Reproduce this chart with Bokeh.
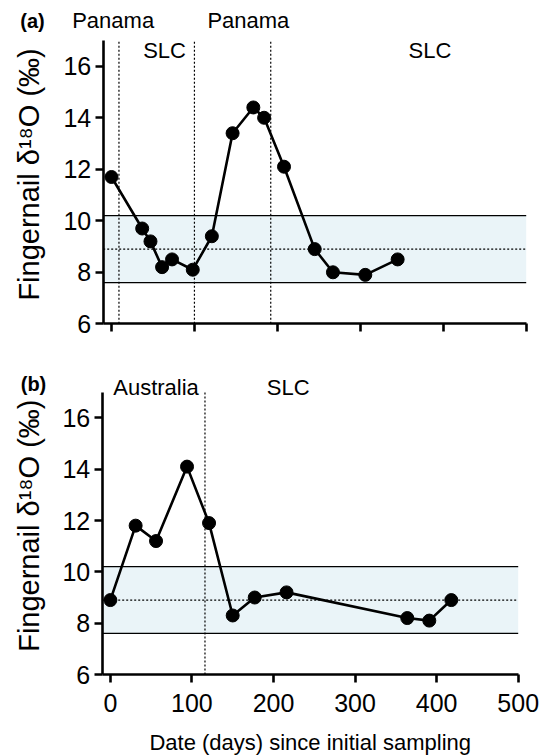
import math
from bokeh.plotting import figure
from bokeh.models import Label, Range1d, FixedTicker, BoxAnnotation
from bokeh.layouts import column
from bokeh.embed import file_html
from bokeh.resources import INLINE

# ---------------- data ----------------
# Panel (a)
a_days = [0, 37, 47, 61, 73, 98, 121, 146, 171, 184, 208, 245, 267, 306, 345]
a_d18o = [11.7, 9.7, 9.2, 8.2, 8.5, 8.1, 9.4, 13.4, 14.4, 14.0, 12.1, 8.9, 8.0, 7.9, 8.5]
a_boundaries = [9, 100, 192]
a_regions = ["Panama", "SLC", "Panama", "SLC"]
a_region_days = [2, 64, 165, 384]

# Panel (b)
b_days = [0, 31, 56, 94, 121, 150, 177, 216, 364, 391, 418]
b_d18o = [8.9, 11.8, 11.2, 14.1, 11.9, 8.3, 9.0, 9.2, 8.2, 8.1, 8.9]
b_boundaries = [116]
b_regions = ["Australia", "SLC"]
b_region_days = [56, 218]

# Reference range (SLC residents)
band_low, band_mid, band_high = 7.6, 8.9, 10.2

x_ticks = [0, 100, 200, 300, 400, 500]
y_ticks = [6, 8, 10, 12, 14, 16]
y_title = "Fingernail δ¹⁸O (‰)"
x_title = "Date (days) since initial sampling"

FONT = "Liberation Sans"
X0, X1 = -10, 500
Y0, YTOP = 6, 17
W = 539


def make_panel(days, vals, bounds, regions, region_days, region_rows, height,
               px_xaxis_left, px_x500, px_y17, px_y6, show_xlabels, tag, tag_px, title_px,
               xtitle_py=None):
    # frame covers the whole canvas; axes are placed at fixed data locations
    kx = (px_x500 - px_xaxis_left) / (X1 - X0)
    ky = (px_y6 - px_y17) / (YTOP - Y0)
    x_lo = X0 - px_xaxis_left / kx
    x_hi = X1 + (W - px_x500) / kx
    y_hi = YTOP + px_y17 / ky
    y_lo = Y0 - (height - px_y6) / ky

    def ydata(py):
        return Y0 + (px_y6 - py) / ky

    p = figure(width=W, height=height, output_backend="svg", toolbar_location=None,
               x_range=Range1d(x_lo, x_hi), y_range=Range1d(y_lo, y_hi),
               min_border_left=0, min_border_right=0,
               min_border_top=0, min_border_bottom=0)
    p.outline_line_color = None
    p.xgrid.visible = False
    p.ygrid.visible = False
    p.background_fill_color = "white"
    p.border_fill_color = "white"

    # reference band
    p.add_layout(BoxAnnotation(left=X0, right=X1, bottom=band_low, top=band_high,
                               fill_color="#eaf4f8", fill_alpha=1.0, line_color=None,
                               level="underlay"))
    p.segment(x0=[X0, X0], y0=[band_low, band_high], x1=[X1, X1], y1=[band_low, band_high],
              line_color="black", line_width=1.3)
    p.segment(x0=[X0], y0=[band_mid], x1=[X1], y1=[band_mid],
              line_color="black", line_width=1.2, line_dash="2 2")

    # location boundaries
    p.segment(x0=bounds, y0=[Y0] * len(bounds), x1=bounds, y1=[YTOP] * len(bounds),
              line_color="black", line_width=1.2, line_dash="2 2")

    # data
    p.line(days, vals, line_color="black", line_width=2.6)
    p.scatter(days, vals, size=13, fill_color="black", line_color="black")

    # axes
    for ax in (p.xaxis[0], p.yaxis[0]):
        ax.axis_line_width = 2.6
        ax.major_tick_line_width = 2.6
        ax.major_tick_out = 8
        ax.major_tick_in = 0
        ax.minor_tick_line_color = None
        ax.major_label_text_font = FONT
        ax.major_label_text_font_size = "25px"
        ax.major_label_text_color = "black"
        ax.axis_line_color = "black"
        ax.major_tick_line_color = "black"
    p.yaxis.ticker = FixedTicker(ticks=y_ticks)
    p.xaxis.ticker = FixedTicker(ticks=x_ticks)
    p.yaxis.bounds = (Y0, YTOP)
    p.xaxis.bounds = (X0, X1)
    p.yaxis.fixed_location = X0
    p.xaxis.fixed_location = Y0
    p.yaxis.major_label_standoff = 4
    if show_xlabels:
        p.xaxis.major_label_standoff = 11
    else:
        p.xaxis.major_label_overrides = {t: "" for t in x_ticks}
        p.xaxis.major_label_standoff = 0

    # y title (rotated)
    p.add_layout(Label(x=title_px, x_units="screen", y=11.8, y_units="data", text=y_title,
                       angle=math.pi / 2, text_align="center", text_baseline="middle",
                       text_font=FONT, text_font_size="29px", text_color="black"))
    # x title
    if show_xlabels:
        p.add_layout(Label(x=(px_xaxis_left + px_x500) / 2, x_units="screen",
                           y=ydata(xtitle_py), y_units="data", text=x_title,
                           text_align="center", text_baseline="middle", text_font=FONT,
                           text_font_size="22px", text_color="black"))
    # panel tag
    p.add_layout(Label(x=tag_px[0], x_units="screen", y=ydata(tag_px[1]), y_units="data",
                       text=tag, text_align="center", text_baseline="middle", text_font=FONT,
                       text_font_size="20px", text_font_style="bold", text_color="black"))
    # location labels
    for name, d, ry in zip(regions, region_days, region_rows):
        p.add_layout(Label(x=d, y=ydata(ry), text=name, text_align="center",
                           text_baseline="middle", text_font=FONT,
                           text_font_size="22px", text_color="black"))
    return p


pa = make_panel(a_days, a_d18o, a_boundaries, a_regions, a_region_days,
                [20, 50, 20, 50], height=340,
                px_xaxis_left=102.7, px_x500=525.7, px_y17=40, px_y6=323.3,
                show_xlabels=False, tag="(a)", tag_px=(32, 20), title_px=28)
pb = make_panel(b_days, b_d18o, b_boundaries, b_regions, b_region_days,
                [47, 47], height=416,
                px_xaxis_left=101.7, px_x500=517.7, px_y17=51.7, px_y6=334,
                show_xlabels=True, tag="(b)", tag_px=(33, 43), title_px=28,
                xtitle_py=741.5 - 340)

layout = column(pa, pb, spacing=0)
open("out.html", "w").write(file_html(layout, INLINE))
